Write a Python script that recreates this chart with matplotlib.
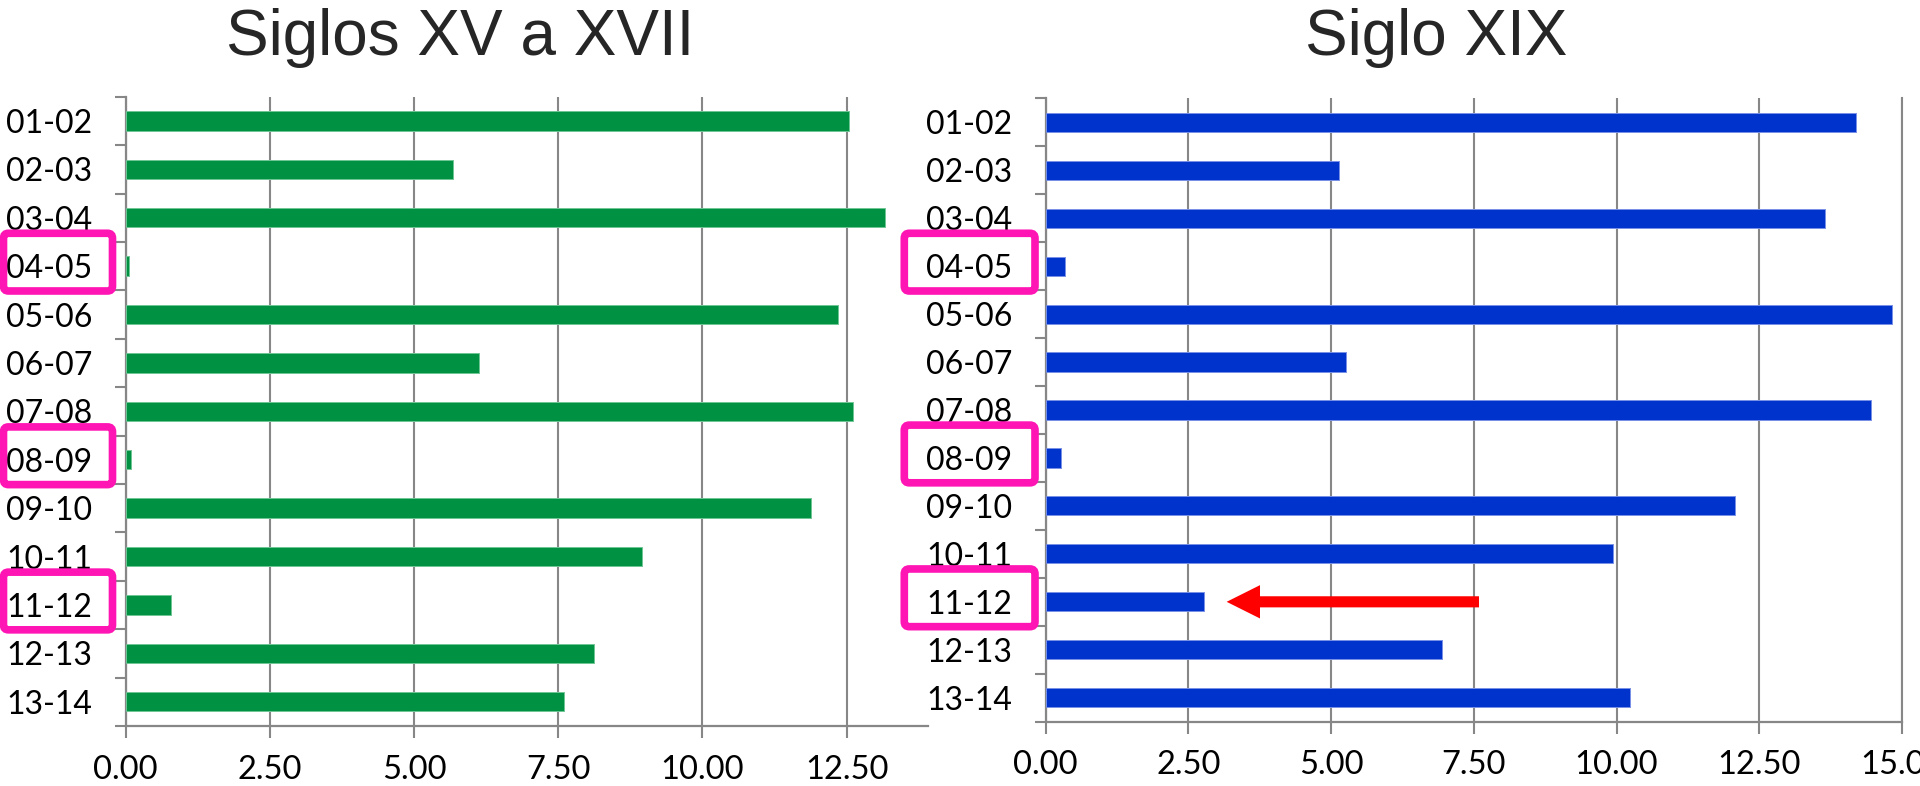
import matplotlib
matplotlib.use('Agg')
import matplotlib.pyplot as plt
from matplotlib.patches import FancyBboxPatch
from matplotlib.transforms import IdentityTransform
import numpy as np

# ---------------- data ----------------
categories = ['01-02', '02-03', '03-04', '04-05', '05-06', '06-07', '07-08',
              '08-09', '09-10', '10-11', '11-12', '12-13', '13-14']
values_xv_xvii = [12.54, 5.67, 13.16, 0.06, 12.35, 6.12, 12.61,
                  0.10, 11.88, 8.96, 0.78, 8.12, 7.60]
values_xix = [14.20, 5.13, 13.65, 0.33, 14.83, 5.26, 14.46,
              0.26, 12.07, 9.93, 2.78, 6.95, 10.23]
title_left = 'Siglos XV a XVII'
title_right = 'Siglo XIX'
xticks_left = [0, 2.5, 5, 7.5, 10, 12.5]
xticks_right = [0, 2.5, 5, 7.5, 10, 12.5, 15]
xmax_left = 13.9
xmax_right = 15.0
highlighted = ['04-05', '08-09', '11-12']
arrow_category = '11-12'
arrow_tail = 7.59
arrow_tip = 3.17

# ---------------- style ----------------
plt.rcParams['font.family'] = ['Lato', 'DejaVu Sans']
GRAY = '#878787'
GREEN = '#009143'
GREEN_EDGE = '#70c595'
BLUE = '#0033cc'
BLUE_EDGE = '#7890e6'
MAGENTA = '#ff14b4'

W, H = 1920, 786
fig = plt.figure(figsize=(W / 100, H / 100), dpi=100)

axL = fig.add_axes([125.5 / W, 1 - 726 / H, 802 / W, (726 - 96.7) / H])
axR = fig.add_axes([1045.7 / W, 1 - 721.7 / H, (1902 - 1045.7) / W, (721.7 - 98.3) / H])


def setup(ax, vals, color, edge, xmax, xticks):
    y = np.arange(len(categories))
    ax.barh(y, vals, height=0.4, color=color, edgecolor=edge, linewidth=0.7, zorder=3)
    ax.set_ylim(len(categories) - 0.5, -0.5)
    ax.set_xlim(0, xmax)
    ax.set_xticks(xticks)
    ax.set_xticklabels([f'{t:.2f}' for t in xticks])
    ax.set_yticks(np.arange(len(categories) + 1) - 0.5)
    ax.set_yticklabels([])
    ax.set_yticks(y, minor=True)
    ax.set_yticklabels(categories, minor=True)
    ax.tick_params(axis='y', which='major', length=8, width=1.5, color=GRAY, direction='out')
    ax.tick_params(axis='y', which='minor', length=0, pad=24, labelsize=23, labelcolor='black')
    ax.tick_params(axis='x', which='major', length=8.6, width=1.5, color=GRAY,
                   direction='out', pad=12, labelsize=23.5, labelcolor='black')
    ax.grid(axis='x', color=GRAY, linewidth=1.5, zorder=0)
    ax.set_axisbelow(True)
    for s in ['top', 'right']:
        ax.spines[s].set_visible(False)
    for s in ['left', 'bottom']:
        ax.spines[s].set_color(GRAY)
        ax.spines[s].set_linewidth(1.6)
    ax.set_facecolor('white')


setup(axL, values_xv_xvii, GREEN, GREEN_EDGE, xmax_left, xticks_left)
setup(axR, values_xix, BLUE, BLUE_EDGE, xmax_right, xticks_right)
axR.spines['right'].set_visible(True)
axR.spines['right'].set_color(GRAY)
axR.spines['right'].set_linewidth(1.5)

# titles
fig.text(460 / W, 1 - 55 / H, title_left, ha='center', va='baseline',
         fontsize=46, family='Liberation Sans', color='#262626')
fig.text(1436 / W, 1 - 55 / H, title_right, ha='center', va='baseline',
         fontsize=46, family='Liberation Sans', color='#262626')

# arrow on the right panel
ai = categories.index(arrow_category)
axR.annotate('', xy=(arrow_tip, ai), xytext=(arrow_tail, ai),
             arrowprops=dict(arrowstyle='simple,head_length=2.4,head_width=2.4,tail_width=0.8',
                             mutation_scale=10, fc='#ff0000', ec='none',
                             shrinkA=0, shrinkB=0), zorder=5)

# magenta highlight boxes (pixel layout relative to each axes)
fig.canvas.draw()


def add_boxes(ax, x0, x1):
    for cat in highlighted:
        i = categories.index(cat)
        cy = ax.transData.transform((0, i))[1] + 4
        h = 57.7
        box = FancyBboxPatch((x0, cy - h / 2), x1 - x0, h,
                             boxstyle='round,pad=0,rounding_size=5',
                             transform=IdentityTransform(), fill=False,
                             edgecolor=MAGENTA, linewidth=5.5, zorder=10)
        fig.patches.append(box)


add_boxes(axL, 3.5, 112.5)
add_boxes(axR, 904.3, 1035.0)

fig.savefig('out.png', dpi=100)
